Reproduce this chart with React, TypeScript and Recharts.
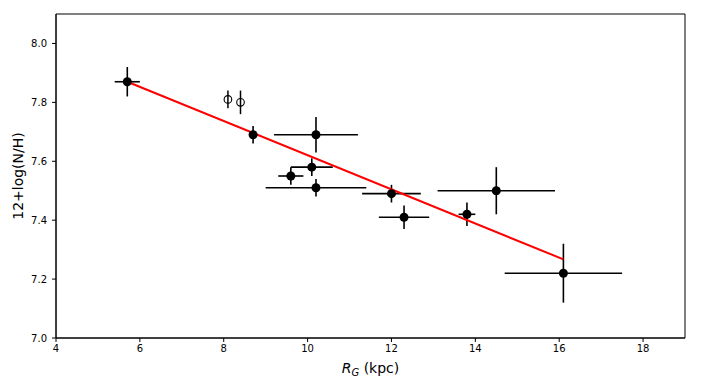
import { ScatterChart, Scatter, XAxis, YAxis, ErrorBar, ReferenceArea } from 'recharts'

// galactocentric radius (kpc) and N/H for the filled points
const radius = [5.7, 8.7, 10.2, 10.1, 9.6, 10.2, 12.0, 12.3, 13.8, 14.5, 16.1]
const logNH = [7.87, 7.69, 7.69, 7.58, 7.55, 7.51, 7.49, 7.41, 7.42, 7.5, 7.22]
const radiusErr = [0.3, 0, 1.0, 0.5, 0.3, 1.2, 0.7, 0.6, 0.2, 1.4, 1.4]
const logNHErr = [0.05, 0.03, 0.06, 0.03, 0.03, 0.03, 0.03, 0.04, 0.04, 0.08, 0.1]

// open points
const openRadius = [8.1, 8.4]
const openLogNH = [7.81, 7.8]
const openLogNHErr = [0.03, 0.04]

// linear fit end points
const fitRadius = [5.7, 16.1]
const fitLogNH = [7.87, 7.267]

const xTicks = [4, 6, 8, 10, 12, 14, 16, 18]
const yTicks = [7.0, 7.2, 7.4, 7.6, 7.8, 8.0]
const xDomain = [4, 19]
const yDomain = [7.0, 8.1]

const filled = radius.map((r, i) => ({ x: r, y: logNH[i], ex: radiusErr[i], ey: logNHErr[i] }))
const open = openRadius.map((r, i) => ({ x: r, y: openLogNH[i], ey: openLogNHErr[i] }))
const fit = fitRadius.map((r, i) => ({ x: r, y: fitLogNH[i] }))

const font = '"DejaVu Sans", sans-serif'
const tickStyle = { fill: '#000', fontSize: 10, fontFamily: font }

const FilledDot = (p: any) => <circle cx={p.cx} cy={p.cy} r={4.5} fill="#000" />
const OpenDot = (p: any) => (
  <circle cx={p.cx} cy={p.cy} r={3.8} fill="none" stroke="#000" strokeWidth={1.1} />
)
const NoDot = () => null

const XLabel = (p: any) => {
  const vb = p.viewBox
  return (
    <text x={vb.x + vb.width / 2} y={vb.y + 35} textAnchor="middle" fontFamily={font} fontSize={14} fill="#000">
      <tspan fontStyle="italic">R</tspan>
      <tspan fontStyle="italic" fontSize={10} dy={3}>G</tspan>
      <tspan dy={-3}> (kpc)</tspan>
    </text>
  )
}

const YLabel = (p: any) => {
  const vb = p.viewBox
  const cy = vb.y + vb.height / 2
  return (
    <text x={18} y={cy} transform={`rotate(-90, 18, ${cy})`} textAnchor="middle" dominantBaseline="central"
      fontFamily={font} fontSize={14} fill="#000">
      12+log(N/H)
    </text>
  )
}

export default function App() {
  return (
    <div style={{ position: 'absolute', left: 0, top: 0, background: '#fff' }}>
      <ScatterChart width={702} height={390} margin={{ top: 14, right: 17, left: 0, bottom: 0 }}>
        <XAxis
          type="number"
          dataKey="x"
          domain={xDomain}
          ticks={xTicks}
          allowDataOverflow
          height={52}
          tick={tickStyle}
          tickSize={4}
          tickMargin={3}
          stroke="#000"
          tickLine={{ stroke: '#000' }}
          label={{ content: XLabel }}
        />
        <YAxis
          type="number"
          dataKey="y"
          domain={yDomain}
          ticks={yTicks}
          allowDataOverflow
          width={56}
          tick={tickStyle}
          tickSize={4}
          tickMargin={5}
          stroke="#000"
          tickLine={{ stroke: '#000' }}
          tickFormatter={(v: number) => v.toFixed(1)}
          label={{ content: YLabel }}
        />
        <ReferenceArea x1={xDomain[0]} x2={xDomain[1]} y1={yDomain[0]} y2={yDomain[1]}
          fill="none" stroke="#000" strokeWidth={1} fillOpacity={0} ifOverflow="visible" />
        <Scatter data={fit} line={{ stroke: '#ff0000', strokeWidth: 2 }} shape={NoDot} isAnimationActive={false} />
        <Scatter data={open} shape={OpenDot} isAnimationActive={false}>
          <ErrorBar dataKey="ey" direction="y" width={0} stroke="#000" strokeWidth={1.5} isAnimationActive={false} />
        </Scatter>
        <Scatter data={filled} shape={FilledDot} isAnimationActive={false}>
          <ErrorBar dataKey="ex" direction="x" width={0} stroke="#000" strokeWidth={1.6} isAnimationActive={false} />
          <ErrorBar dataKey="ey" direction="y" width={0} stroke="#000" strokeWidth={1.6} isAnimationActive={false} />
        </Scatter>
      </ScatterChart>
    </div>
  )
}
